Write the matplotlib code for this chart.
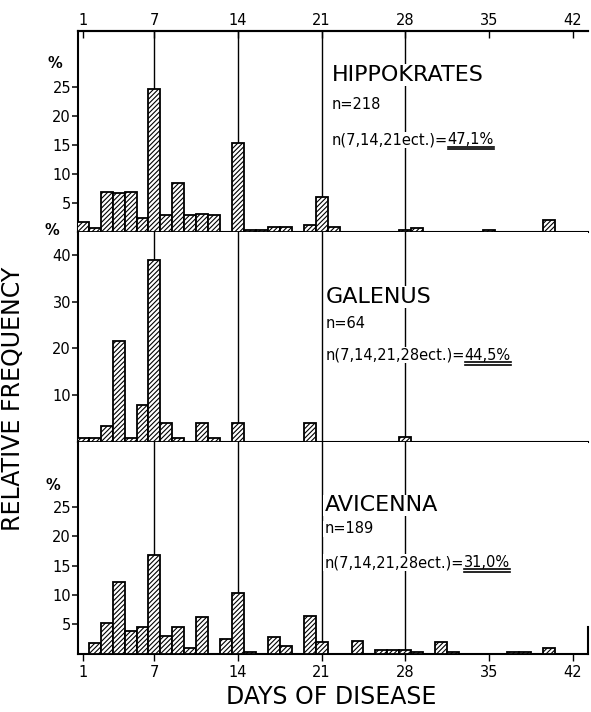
import numpy as np
import matplotlib.pyplot as plt

plt.rcParams['font.family'] = ['DejaVu Sans']
plt.rcParams['hatch.linewidth'] = 0.8
plt.rcParams['hatch.color'] = 'black'

#---------------------------------------
# donnees (jour de maladie -> frequence relative en %)
hippo_jours = [1, 2, 3, 4, 5, 6, 7, 8, 9, 10, 11, 12, 14, 15, 16, 17, 18,
               20, 21, 22, 28, 29, 35, 40]
hippo_pct = [1.8, 0.8, 6.9, 6.8, 7.0, 2.4, 24.7, 3.0, 8.5, 3.0, 3.2, 3.0,
             15.4, 0.5, 0.5, 1.0, 1.0, 1.2, 6.1, 1.0, 0.4, 0.7, 0.5, 2.2]

galen_jours = [1, 2, 3, 4, 5, 6, 7, 8, 9, 11, 12, 14, 20, 28]
galen_pct = [0.8, 0.8, 3.4, 21.6, 0.8, 7.9, 39.0, 4.1, 0.8, 4.1, 0.9,
             4.1, 4.0, 1.0]

avic_jours = [2, 3, 4, 5, 6, 7, 8, 9, 10, 11, 13, 14, 15, 17, 18, 20, 21,
              24, 26, 27, 28, 29, 31, 32, 37, 38, 40]
avic_pct = [1.8, 5.2, 12.2, 3.9, 4.5, 16.8, 3.1, 4.5, 1.0, 6.3, 2.5, 10.4,
            0.4, 2.8, 1.35, 6.5, 2.0, 2.25, 0.7, 0.7, 0.7, 0.3, 2.0, 0.4,
            0.4, 0.4, 1.0]

jours_ticks = [1, 7, 14, 21, 28, 35, 42]
lignes_jours = [7, 14, 21, 28]

noms = ["HIPPOKRATES", "GALENUS", "AVICENNA"]
effectifs = ["n=218", "n=64", "n=189"]
formules = ["n(7,14,21ect.)=", "n(7,14,21,28ect.)=", "n(7,14,21,28ect.)="]
pourcents = ["47,1%", "44,5%", "31,0%"]
yticks = [[5, 10, 15, 20, 25], [10, 20, 30, 40], [5, 10, 15, 20, 25]]
ymax = [34.6, 44.8, 36.0]
#--------------------------------------

fig = plt.figure(figsize=(5.91, 7.12), dpi=100)

# position des trois panneaux [gauche, bas, largeur, hauteur]
boites = [[0.132, 0.6735, 0.863, 0.283],
          [0.132, 0.3796, 0.863, 0.2939],
          [0.132, 0.0815, 0.863, 0.2981]]
# position du texte (x, y1, y2, y3 en fraction d'axes) et du "%"
texte_pos = [(0.497, 0.78, 0.633, 0.459), (0.485, 0.693, 0.567, 0.414),
             (0.483, 0.70, 0.589, 0.43)]
pct_pos = [(-0.045, 0.84), (-0.051, 1.01), (-0.049, 0.796)]

donnees = [(hippo_jours, hippo_pct), (galen_jours, galen_pct),
           (avic_jours, avic_pct)]

axes = []
for i in range(3):
    ax = fig.add_axes(boites[i])
    axes.append(ax)
    jours, pct = donnees[i]
    ax.bar(jours, pct, width=1.0, facecolor='white', edgecolor='black',
           linewidth=1.3, hatch='///////', zorder=3)
    for d in lignes_jours:
        ax.axvline(d, color='black', lw=1.0, zorder=1)
    ax.set_xlim(0.6, 43.3)
    ax.set_ylim(0, ymax[i])
    ax.set_yticks(yticks[i])
    ax.set_yticklabels([str(t) for t in yticks[i]])
    ax.tick_params(axis='y', direction='out', length=4, width=1.1,
                   labelsize=10.5, pad=1)
    for s in ['left', 'bottom', 'top', 'right']:
        ax.spines[s].set_linewidth(1.5)
    ax.spines['right'].set_visible(False)
    if i > 0:
        ax.spines['top'].set_visible(False)
    if i < 2:
        ax.set_xticks(lignes_jours)
        ax.tick_params(axis='x', direction='out', length=5, width=1.0,
                       labelbottom=False)
    else:
        ax.set_xticks(jours_ticks)
        ax.tick_params(axis='x', direction='out', length=5, width=1.0,
                       labelsize=10.5, pad=3)
        ax.spines['right'].set_visible(True)
        ax.spines['right'].set_bounds(0, 4.5)

    ax.text(pct_pos[i][0], pct_pos[i][1], "%", transform=ax.transAxes,
            ha='center', va='center', fontsize=10.5, fontweight='bold')

    x, y1, y2, y3 = texte_pos[i]
    bb = dict(facecolor='white', edgecolor='none', pad=0.6)
    ax.text(x, y1, noms[i], transform=ax.transAxes, fontsize=16,
            va='center', ha='left', bbox=bb, zorder=5)
    ax.text(x, y2, effectifs[i], transform=ax.transAxes, fontsize=10.5,
            va='center', ha='left', bbox=bb, zorder=5)
    ax.text(x, y3, formules[i], transform=ax.transAxes, fontsize=10.5,
            va='center', ha='left', bbox=bb, zorder=5)

# axe du haut du premier panneau : jours
sec = axes[0].secondary_xaxis('top')
sec.set_xticks(jours_ticks)
sec.tick_params(direction='in', length=5, width=1.0, labelsize=10.5, pad=2)
sec.spines['top'].set_linewidth(1.5)

# pourcentages doublement soulignes, places apres la formule
fig.canvas.draw()
rend = fig.canvas.get_renderer()
for i in range(3):
    ax = axes[i]
    t1 = ax.texts[-1]
    ext = t1.get_window_extent(rend)
    inv = ax.transAxes.inverted()
    x0 = inv.transform((ext.x1, ext.y0))[0]
    y3 = texte_pos[i][3]
    t2 = ax.text(x0, y3, pourcents[i], transform=ax.transAxes,
                 fontsize=10.5, va='center', ha='left',
                 bbox=dict(facecolor='white', edgecolor='none', pad=0.6),
                 zorder=5)
    e2 = t2.get_window_extent(rend)
    xa, ya = inv.transform((e2.x0, e2.y0))
    xb, _ = inv.transform((e2.x1, e2.y0))
    for dy in [-0.004, 0.01]:
        ax.plot([xa, xb], [ya - dy, ya - dy], color='black', lw=1.2,
                transform=ax.transAxes, clip_on=False, zorder=6)

fig.text(0.022, 0.44, "RELATIVE FREQUENCY", rotation=90, ha='center',
         va='center', fontsize=17)
fig.text(0.56, 0.021, "DAYS OF DISEASE", ha='center', va='center',
         fontsize=17)

plt.savefig("out.png", dpi=100)
